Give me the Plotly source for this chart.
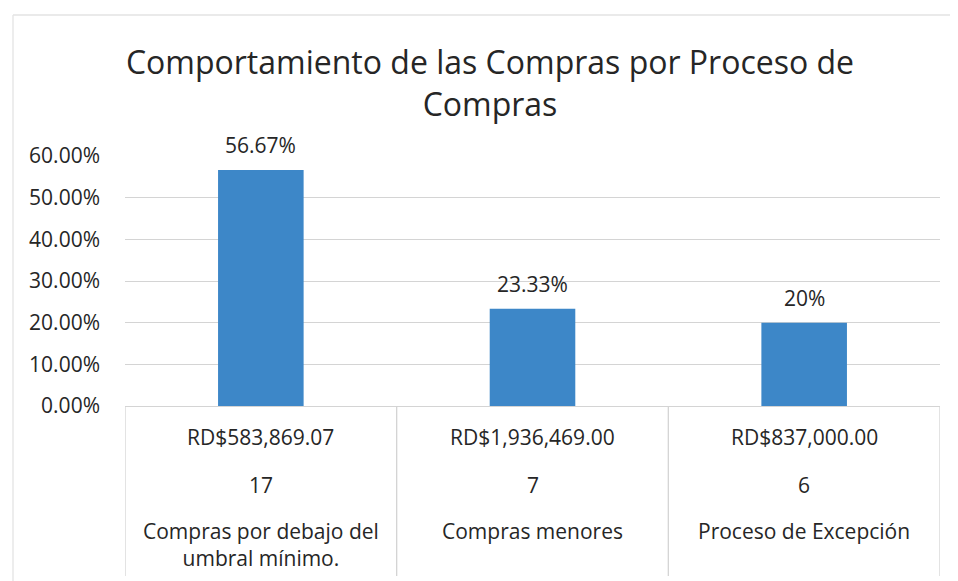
import plotly.graph_objects as go

# ---- data ----
categories = ["Compras por debajo del<br>umbral mínimo.", "Compras menores", "Proceso de Excepción"]
percentages = [0.5667, 0.2333, 0.20]
data_labels = ["56.67%", "23.33%", "20%"]
amounts = ["RD$583,869.07", "RD$1,936,469.00", "RD$837,000.00"]
counts = ["17", "7", "6"]
y_ticks = [0, 0.1, 0.2, 0.3, 0.4, 0.5, 0.6]
y_tick_labels = ["0.00%", "10.00%", "20.00%", "30.00%", "40.00%", "50.00%", "60.00%"]

FONT = "Open Sans"
TXT = "#262626"
GRID = "#d4d4d4"
BAR = "#3d87c8"

OFF = 8  # page body margin
W, H = 958 - OFF, 581 - OFF
L = 125 - OFF
R = 958 - 940
T = 156 - OFF
B = 581 - 406
ph = H - T - B
pw = W - L - R


def py(pix):
    # reference-image pixel row -> paper y
    return (406 - pix) / ph


def px(pix):
    return (pix - 125) / pw


fig = go.Figure()
fig.add_trace(go.Bar(
    x=list(range(len(categories))),
    y=percentages,
    marker=dict(color=BAR, line=dict(width=0)),
    hoverinfo="skip",
))

lab_font = dict(family=FONT, size=21, color=TXT)
annotations = []
for i, (v, t) in enumerate(zip(percentages, data_labels)):
    annotations.append(dict(x=i, y=v, xref="x", yref="y", text=t, showarrow=False,
                            yanchor="bottom", yshift=9, font=lab_font))
for i, (a, c, cat) in enumerate(zip(amounts, counts, categories)):
    annotations.append(dict(x=i, y=py(437), xref="x", yref="paper", text=a, showarrow=False,
                            yanchor="middle", font=lab_font))
    annotations.append(dict(x=i, y=py(485), xref="x", yref="paper", text=c, showarrow=False,
                            yanchor="middle", font=lab_font))
    annotations.append(dict(x=i, y=py(515), xref="x", yref="paper", text=cat, showarrow=False,
                            yanchor="top", align="center", font=lab_font))

shapes = []
for k in range(len(categories) + 1):
    xv = k - 0.5
    shapes.append(dict(type="line", xref="x", yref="paper", x0=xv, x1=xv, y0=0, y1=py(576),
                       line=dict(color=GRID, width=1.3)))
# outer chart frame (left and top edges visible)
shapes.append(dict(type="line", xref="paper", yref="paper", x0=px(13), x1=px(13),
                   y0=py(15), y1=py(600), line=dict(color="#e3e3e3", width=1.3)))
shapes.append(dict(type="line", xref="paper", yref="paper", x0=px(13), x1=px(980),
                   y0=py(15), y1=py(15), line=dict(color="#e3e3e3", width=1.3)))

fig.update_layout(
    width=W, height=H,
    margin=dict(l=L, r=R, t=T, b=B),
    paper_bgcolor="white", plot_bgcolor="white",
    showlegend=False,
    bargap=0.685,
    title=dict(text="Comportamiento de las Compras por Proceso de<br>Compras",
               x=(490 - OFF) / W, xref="container", xanchor="center",
               y=1 - (74 - OFF) / H, yref="container", yanchor="middle",
               font=dict(family=FONT, size=32, color=TXT)),
    xaxis=dict(range=[-0.5, len(categories) - 0.5], showticklabels=False, showgrid=False,
               zeroline=False, showline=True, linecolor=GRID, linewidth=1.3, ticks=""),
    yaxis=dict(range=[0, 0.6], tickvals=y_ticks, ticktext=y_tick_labels,
               showgrid=True, gridcolor=GRID, gridwidth=1.3, zeroline=False, showline=False,
               ticks="", ticklabelstandoff=24,
               tickfont=dict(family=FONT, size=21, color=TXT)),
    annotations=annotations,
    shapes=shapes,
)

fig.write_html("out.html")
